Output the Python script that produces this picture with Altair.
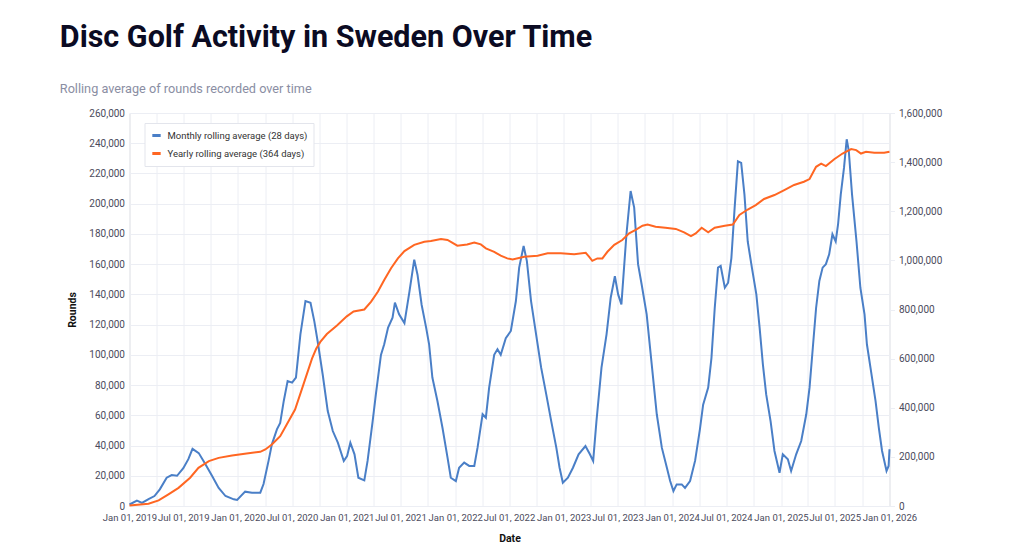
import altair as alt
import pandas as pd

MONTHLY_LABEL = "Monthly rolling average (28 days)"
YEARLY_LABEL = "Yearly rolling average (364 days)"

monthly_dates = [
    "2019-01-01", "2019-01-26", "2019-02-12", "2019-03-06", "2019-03-26", "2019-04-13", "2019-05-06",
    "2019-05-23", "2019-06-10", "2019-07-01", "2019-07-18", "2019-08-01", "2019-08-22", "2019-09-13",
    "2019-10-06", "2019-10-28", "2019-11-20", "2019-12-18", "2019-12-29", "2020-01-25", "2020-02-17",
    "2020-03-16", "2020-03-27", "2020-04-13", "2020-04-24", "2020-05-11", "2020-05-22", "2020-06-03",
    "2020-06-16", "2020-07-01", "2020-07-14", "2020-07-29", "2020-08-15", "2020-09-01", "2020-09-14",
    "2020-09-25", "2020-10-12", "2020-10-29", "2020-11-15", "2020-12-02", "2020-12-22", "2021-01-02",
    "2021-01-13", "2021-01-27", "2021-02-09", "2021-03-01", "2021-03-12", "2021-03-29", "2021-04-09",
    "2021-04-26", "2021-05-07", "2021-05-20", "2021-06-04", "2021-06-12", "2021-06-26", "2021-07-14",
    "2021-07-31", "2021-08-16", "2021-08-27", "2021-09-10", "2021-09-25", "2021-10-05", "2021-10-16",
    "2021-11-02", "2021-11-19", "2021-12-06", "2021-12-17", "2022-01-03", "2022-01-14", "2022-01-31",
    "2022-02-17", "2022-03-06", "2022-03-17", "2022-04-03", "2022-04-14", "2022-04-25", "2022-05-12",
    "2022-05-23", "2022-06-03", "2022-06-20", "2022-07-07", "2022-07-24", "2022-08-04", "2022-08-19",
    "2022-08-30", "2022-09-13", "2022-09-30", "2022-10-17", "2022-11-03", "2022-11-20", "2022-12-07",
    "2022-12-18", "2022-12-29", "2023-01-15", "2023-02-01", "2023-02-20", "2023-03-15", "2023-03-30",
    "2023-04-10", "2023-04-21", "2023-05-08", "2023-05-25", "2023-06-08", "2023-06-22", "2023-07-03",
    "2023-07-14", "2023-07-31", "2023-08-14", "2023-08-26", "2023-09-08", "2023-09-20", "2023-10-07",
    "2023-10-24", "2023-11-10", "2023-11-27", "2023-12-14", "2023-12-25", "2024-01-05", "2024-01-16",
    "2024-02-02", "2024-02-13", "2024-03-01", "2024-03-18", "2024-04-03", "2024-04-14", "2024-05-01",
    "2024-05-12", "2024-05-23", "2024-06-03", "2024-06-12", "2024-06-26", "2024-07-07", "2024-07-18",
    "2024-07-29", "2024-08-09", "2024-08-20", "2024-08-31", "2024-09-11", "2024-09-25", "2024-10-10",
    "2024-10-21", "2024-11-01", "2024-11-12", "2024-11-27", "2024-12-10", "2024-12-27", "2025-01-07",
    "2025-01-24", "2025-02-04", "2025-02-21", "2025-03-10", "2025-03-27", "2025-04-07", "2025-04-18",
    "2025-04-29", "2025-05-10", "2025-05-21", "2025-06-01", "2025-06-12", "2025-06-23", "2025-07-04",
    "2025-07-12", "2025-07-21", "2025-08-01", "2025-08-10", "2025-08-17", "2025-08-28", "2025-09-12",
    "2025-09-25", "2025-10-09", "2025-10-17", "2025-10-29", "2025-11-15", "2025-11-26", "2025-12-07",
    "2025-12-22", "2025-12-29", "2026-01-01",
]
monthly_values = [
    1000, 3500, 2000, 4600, 6600, 11000, 18700,
    20500, 20000, 25000, 31000, 37800, 35000, 27800,
    19800, 12000, 6600, 4400, 4000, 9500, 8800,
    8800, 14500, 30000, 40800, 50700, 55000, 69500,
    82700, 81600, 85000, 113600, 135600, 134500, 122000,
    109000, 87000, 62800, 49600, 41900, 29800, 33000,
    41900, 34200, 18700, 17000, 29800, 56000, 74000,
    100000, 107000, 118000, 124600, 134500, 126800, 121000,
    142000, 163000, 153000, 133000, 118000, 107000, 85000,
    69500, 51800, 32000, 18700, 16500, 25300, 28700,
    26500, 26500, 38600, 60700, 58400, 78300, 100000,
    103700, 100000, 111000, 115800, 135600, 157700, 172000,
    162000, 135600, 113600, 91500, 74000, 56000, 38600,
    25300, 15400, 18700, 25300, 34200, 39700, 34200,
    29800, 56000, 91500, 113600, 137800, 152000, 140000,
    133400, 179800, 208400, 197400, 160000, 146700, 126800,
    93700, 60700, 38600, 25300, 16500, 9900, 14300,
    14300, 12000, 16500, 30000, 50500, 67000, 78300,
    98000, 131000, 157700, 158800, 144400, 147700, 164000,
    197400, 228000, 227000, 206000, 175000, 157700, 140000,
    118000, 93700, 74000, 56000, 36400, 22000, 34200,
    30900, 23200, 34200, 43000, 60700, 78300, 104700,
    131000, 148900, 157700, 160000, 166500, 179800, 175000,
    186400, 206000, 223800, 242600, 235000, 206000, 175000,
    144400, 126800, 107000, 91500, 69500, 51800, 36400,
    23200, 26500, 37500,
]

yearly_dates = [
    "2019-01-01", "2019-03-06", "2019-04-09", "2019-05-12", "2019-06-15", "2019-07-24", "2019-08-21",
    "2019-09-25", "2019-10-28", "2019-12-12", "2020-01-30", "2020-03-16", "2020-04-02", "2020-04-24",
    "2020-05-22", "2020-06-13", "2020-07-11", "2020-08-08", "2020-09-06", "2020-09-20", "2020-10-04",
    "2020-10-26", "2020-11-29", "2021-01-01", "2021-01-24", "2021-03-01", "2021-03-24", "2021-04-16",
    "2021-05-07", "2021-05-30", "2021-06-22", "2021-07-14", "2021-08-16", "2021-09-19", "2021-10-11",
    "2021-11-14", "2021-12-06", "2022-01-08", "2022-02-10", "2022-03-06", "2022-03-28", "2022-04-14",
    "2022-05-12", "2022-06-03", "2022-06-25", "2022-07-13", "2022-08-21", "2022-10-05", "2022-11-08",
    "2022-12-22", "2023-02-05", "2023-03-16", "2023-03-27", "2023-04-07", "2023-04-24", "2023-05-11",
    "2023-05-28", "2023-06-20", "2023-07-17", "2023-08-09", "2023-08-31", "2023-09-23", "2023-10-10",
    "2023-11-06", "2023-12-09", "2024-01-13", "2024-02-10", "2024-03-04", "2024-03-20", "2024-04-09",
    "2024-05-01", "2024-05-23", "2024-06-26", "2024-07-23", "2024-08-14", "2024-09-11", "2024-10-08",
    "2024-11-05", "2024-12-10", "2025-01-12", "2025-02-14", "2025-03-19", "2025-04-07", "2025-04-29",
    "2025-05-16", "2025-06-01", "2025-06-29", "2025-07-27", "2025-08-25", "2025-09-11", "2025-09-27",
    "2025-10-14", "2025-11-11", "2025-12-14", "2026-01-01",
]
yearly_values = [
    2000, 9400, 23000, 47500, 74000, 115000, 155500,
    182700, 196000, 206000, 214000, 220500, 230000, 250500,
    284000, 331800, 392700, 494000, 600000, 640000, 668000,
    700000, 735000, 772000, 792000, 800000, 832000, 873000,
    920000, 968000, 1008000, 1038000, 1063000, 1076000, 1079000,
    1087000, 1083000, 1060000, 1065000, 1073000, 1065000, 1049000,
    1035000, 1019000, 1008000, 1004000, 1015000, 1019000, 1029000,
    1029000, 1025000, 1031000, 1015000, 998000, 1008000, 1008000,
    1035000, 1063000, 1083000, 1110000, 1124000, 1141000, 1146000,
    1137000, 1133000, 1128000, 1114000, 1099000, 1110000, 1133000,
    1114000, 1133000, 1141000, 1146000, 1185000, 1207000, 1225000,
    1250000, 1266000, 1286000, 1307000, 1320000, 1331000, 1381000,
    1394000, 1384000, 1412000, 1435000, 1453000, 1449000, 1435000,
    1442000, 1438000, 1438000, 1442000,
]

left_ticks = list(range(0, 260001, 20000))
right_ticks = list(range(0, 1600001, 200000))

BLUE = "#4a7fc7"
ORANGE = "#ff6622"
FONT = "Roboto"
GRID = "#eceef4"
LABEL = "#4b4b5c"

df_m = pd.DataFrame({"date": monthly_dates, "value": monthly_values, "series": MONTHLY_LABEL})
df_y = pd.DataFrame({"date": yearly_dates, "value": yearly_values, "series": YEARLY_LABEL})

color = alt.Color(
    "series:N",
    scale=alt.Scale(domain=[MONTHLY_LABEL, YEARLY_LABEL], range=[BLUE, ORANGE]),
    legend=alt.Legend(
        title=None, orient="none", legendX=15, legendY=10,
        fillColor="white", strokeColor="#e3e5ec", padding=6,
        symbolType="stroke", symbolStrokeWidth=3, symbolSize=70,
        labelFontSize=9.5, labelColor="#333333", labelFont=FONT, rowPadding=5,
        labelOffset=5, clipHeight=13,
    ),
)

x_enc = alt.X(
    "date:T", title="Date",
    scale=alt.Scale(type="utc"),
    axis=alt.Axis(
        tickCount={"interval": "month", "step": 3},
        labelExpr="utcmonth(datum.value) % 6 == 0 ? utcFormat(datum.value, '%b %d, %Y') : ''",
        labelOverlap=False, labelFlush=False, grid=True, gridColor=GRID,
        domain=False, ticks=False, labelPadding=6, labelFontSize=9.5, labelColor=LABEL,
        titleFontWeight="bold", titleFontSize=10.5, titlePadding=12, titleColor="#111111",
    ),
)

monthly = alt.Chart(df_m).mark_line(strokeWidth=2).encode(
    x=x_enc,
    y=alt.Y(
        "value:Q", title="Rounds",
        scale=alt.Scale(domain=[0, 260000]),
        axis=alt.Axis(
            orient="left", values=left_ticks, format=",d", grid=True, gridColor=GRID,
            domain=False, ticks=False, labelPadding=5, labelFontSize=10, labelColor=LABEL,
            titleFontWeight="bold", titleFontSize=10.5, titlePadding=11, titleColor="#111111",
        ),
    ),
    color=color,
)

yearly = alt.Chart(df_y).mark_line(strokeWidth=2).encode(
    x=x_enc,
    y=alt.Y(
        "value:Q", title=None,
        scale=alt.Scale(domain=[0, 1600000]),
        axis=alt.Axis(
            orient="right", values=right_ticks, format=",d", grid=False,
            domain=False, ticks=True, tickColor=GRID, tickSize=5, labelPadding=4,
            labelFontSize=10, labelColor=LABEL,
        ),
    ),
    color=color,
)

chart = alt.layer(monthly, yearly).resolve_scale(y="independent").properties(
    width=760, height=393,
    padding={"left": 51.5, "top": 14, "right": 5, "bottom": 5},
    title=alt.TitleParams(
        text="Disc Golf Activity in Sweden Over Time",
        subtitle="Rolling average of rounds recorded over time",
        anchor="start", frame="bounds", dx=-8, font=FONT, fontSize=30.5, fontWeight="bold",
        color="#0b0b23", subtitleFont=FONT, subtitleFontSize=12.7,
        subtitleColor="#8a8ea3", subtitlePadding=30, offset=12,
    ),
).configure_view(stroke=None).configure(font=FONT)

chart.save("out.html", embed_options={"renderer": "svg", "actions": False})
